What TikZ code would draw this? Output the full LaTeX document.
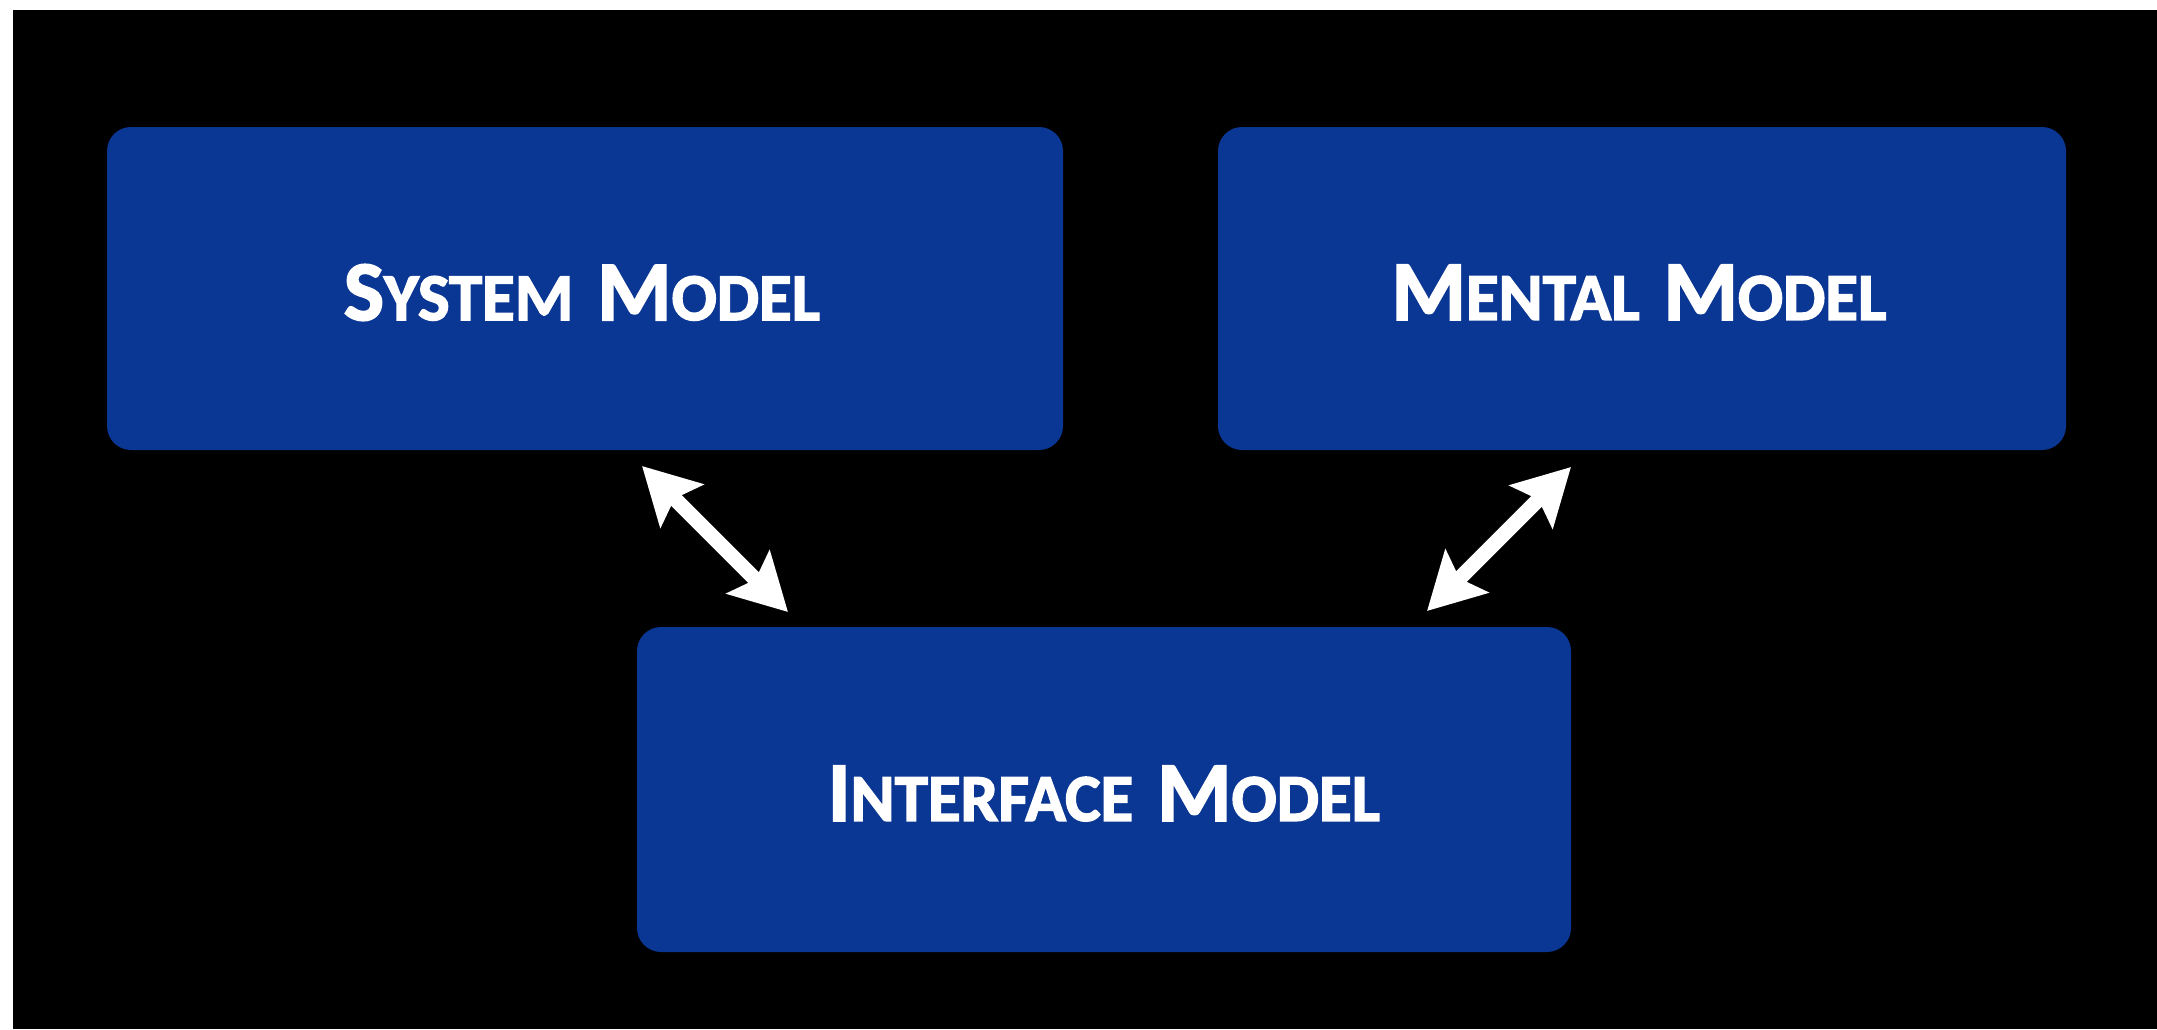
\documentclass[tikz,border=0pt]{standalone}
\usepackage{fontspec}
\setsansfont{Carlito}[BoldFeatures={FakeBold=2.2}]
\usetikzlibrary{arrows.meta}
\definecolor{boxblue}{RGB}{10,54,148}
\newcommand\bigsc[2]{{\fontsize{85}{85}\selectfont #1}{\fontsize{67}{67}\selectfont #2}}
\newcommand\scgap{\hspace{24pt}}
\begin{document}
\begin{tikzpicture}[x=1pt,y=-1pt,
  mbox/.style={fill=boxblue,draw=none,rounded corners=24pt,inner sep=0pt,outer sep=0pt},
  mlabel/.style={text=white,font=\sffamily\bfseries,inner sep=0pt,anchor=center},
  arr/.style={draw=white,line width=15pt,{Stealth[length=56pt,width=60pt,inset=10pt]}-{Stealth[length=56pt,width=60pt,inset=10pt]}}]
\fill[white] (0,0) rectangle (2157,1029);
\fill[black] (13,10) rectangle (2157,1029);
\useasboundingbox (0,0) rectangle (2157,1029);
\node[mbox,minimum width=956pt,minimum height=323pt] (sys) at (585,288.5) {};
\node[mbox,minimum width=848pt,minimum height=323pt] (ment) at (1642,288.5) {};
\node[mbox,minimum width=934pt,minimum height=325pt] (iface) at (1104,789.5) {};
\node[mlabel] (syst) at ([xshift=-3pt,yshift=-4pt]sys.center) {\bigsc{S}{YSTEM}\scgap\bigsc{M}{ODEL}};
\node[mlabel] (mentt) at ([xshift=-3pt,yshift=-4pt]ment.center) {\bigsc{M}{ENTAL}\scgap\bigsc{M}{ODEL}};
\node[mlabel] (ifacet) at ([xshift=0pt,yshift=-4pt]iface.center) {\bigsc{I}{NTERFACE}\scgap\bigsc{M}{ODEL}};
\draw[arr] ([xshift=535pt,yshift=-16pt]sys.south west) -- ([xshift=151pt,yshift=15pt]iface.north west);
\draw[arr] ([xshift=-144pt,yshift=16pt]iface.north east) -- ([xshift=353pt,yshift=-17pt]ment.south west);
\end{tikzpicture}
\end{document}
